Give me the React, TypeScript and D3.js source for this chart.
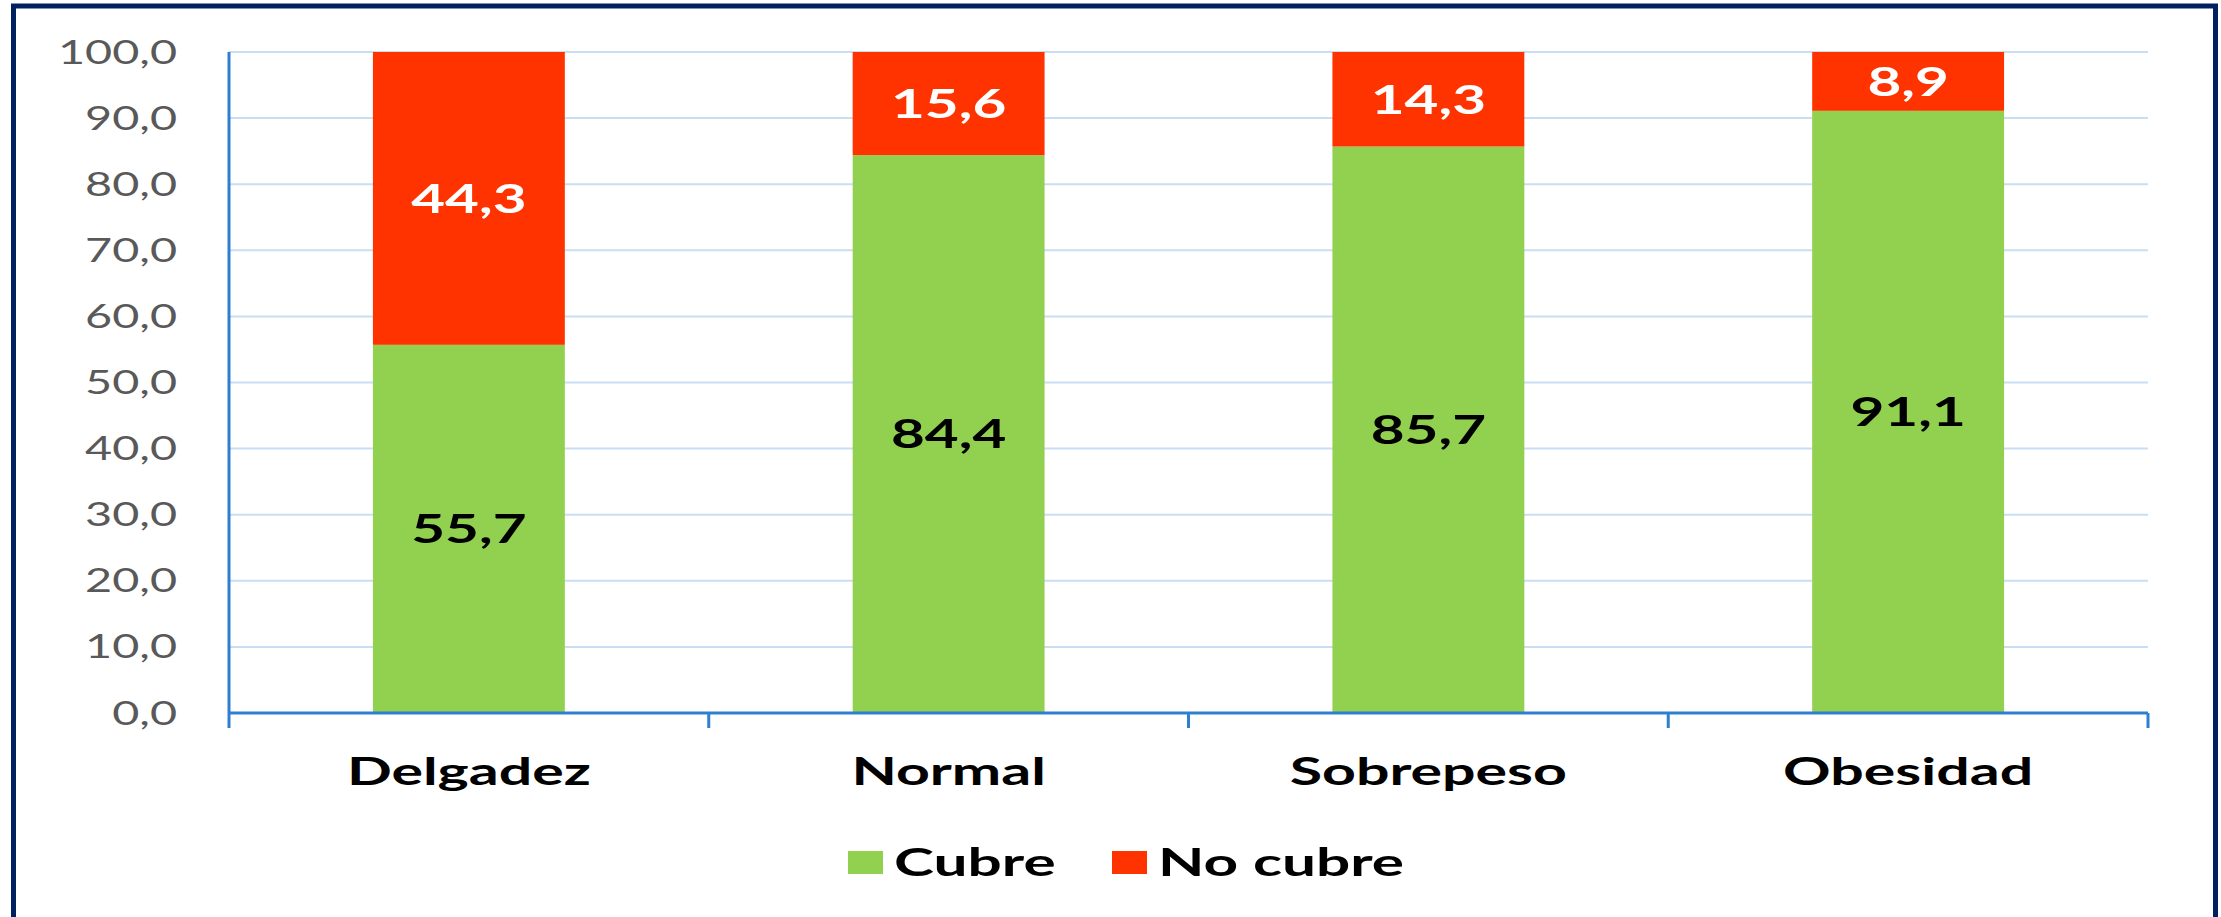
import * as React from "react";
import * as d3 from "d3";

const categories = ["Delgadez", "Normal", "Sobrepeso", "Obesidad"];
const cubre = [55.7, 84.4, 85.7, 91.1];
const noCubre = [44.3, 15.6, 14.3, 8.9];
const yTicks = [0, 10, 20, 30, 40, 50, 60, 70, 80, 90, 100];
const seriesNames = ["Cubre", "No cubre"];
const seriesColors = ["#92d050", "#ff3300"];
const labelColors = ["#000000", "#ffffff"];

// the source image is stretched horizontally, so text is too
const SX = 1.46;
const FONT = "Lato, 'Open Sans', sans-serif";

const fmt = (v: number) => v.toFixed(1).replace(".", ",");

const App: React.FunctionComponent = () => {
  const W = 2221;
  const H = 917;
  const m = { left: 229, right: 2148, top: 52, bottom: 713 };

  const x = d3.scaleBand().domain(categories).range([m.left, m.right]).padding(0);
  const y = d3.scaleLinear().domain([0, 100]).range([m.bottom, m.top]);
  const barW = x.bandwidth() * 0.4;

  const rows = categories.map((c, i) => ({ cat: c, Cubre: cubre[i], "No cubre": noCubre[i] }));
  const stacked = d3.stack<any>().keys(seriesNames)(rows);

  const boundaries = [m.left, ...categories.map((c) => (x(c) as number) + x.bandwidth())];

  return (
    <svg
      width={W}
      height={H}
      style={{ position: "absolute", left: 0, top: 0, background: "#fff" }}
      fontFamily={FONT}
    >
      <rect x={13.5} y={6} width={2202} height={960} fill="#fff" stroke="#002060" strokeWidth={5} />

      {yTicks.filter((t) => t > 0).map((t) => (
        <line key={t} x1={m.left} x2={m.right} y1={y(t)} y2={y(t)} stroke="#c9def2" strokeWidth={2} />
      ))}

      {stacked.map((s, si) =>
        s.map((d, i) => (
          <rect
            key={seriesNames[si] + i}
            x={(x(categories[i]) as number) + (x.bandwidth() - barW) / 2}
            y={y(d[1])}
            width={barW}
            height={y(d[0]) - y(d[1])}
            fill={seriesColors[si]}
          />
        ))
      )}

      {stacked.map((s, si) =>
        s.map((d, i) => (
          <g
            key={"l" + seriesNames[si] + i}
            transform={`translate(${(x(categories[i]) as number) + x.bandwidth() / 2},${(y(d[0]) + y(d[1])) / 2}) scale(${SX},1)`}
          >
            <text textAnchor="middle" dy="0.36em" fontSize={40} fontWeight={700} fill={labelColors[si]}>
              {fmt(d[1] - d[0])}
            </text>
          </g>
        ))
      )}

      <line x1={m.left} x2={m.left} y1={m.top} y2={m.bottom} stroke="#2f7fd0" strokeWidth={3} />
      <line x1={m.left} x2={m.right} y1={m.bottom} y2={m.bottom} stroke="#2f7fd0" strokeWidth={3} />
      {boundaries.map((b, i) => (
        <line key={i} x1={b} x2={b} y1={m.bottom} y2={m.bottom + 15} stroke="#2f7fd0" strokeWidth={3} />
      ))}

      {yTicks.map((t) => (
        <g key={"t" + t} transform={`translate(177,${y(t)}) scale(${SX},1)`}>
          <text textAnchor="end" dy="0.36em" fontSize={32} fill="#595959">
            {fmt(t)}
          </text>
        </g>
      ))}

      {categories.map((c) => (
        <g key={c} transform={`translate(${(x(c) as number) + x.bandwidth() / 2},771) scale(${SX * 1.05},1)`}>
          <text textAnchor="middle" dy="0.36em" fontSize={38.5} fontWeight={700} fill="#000">
            {c}
          </text>
        </g>
      ))}

      {seriesNames.map((s, i) => {
        const lx = [848, 1112][i];
        return (
          <g key={s}>
            <rect x={lx} y={851} width={35} height={23} fill={seriesColors[i]} />
            <g transform={`translate(${lx + 46},862) scale(${SX * 1.06},1)`}>
              <text dy="0.36em" fontSize={39} fontWeight={700} fill="#000">
                {s}
              </text>
            </g>
          </g>
        );
      })}
    </svg>
  );
};

export default App;
